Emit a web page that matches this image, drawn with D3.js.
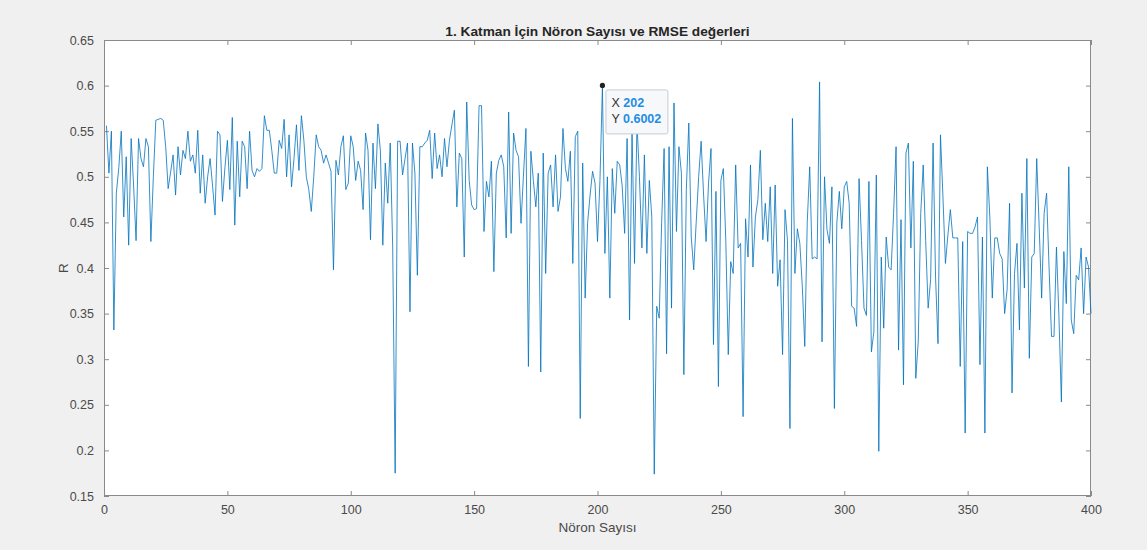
<!DOCTYPE html>
<html><head><meta charset="utf-8">
<script src="https://cdn.jsdelivr.net/npm/d3@7"></script>
<style>
html,body{margin:0;padding:0;background:#f0f0f0;}
svg{display:block;font-family:"Liberation Sans",Arial,Helvetica,sans-serif;}
</style></head>
<body>
<script>
const titleText = "1. Katman İçin Nöron Sayısı ve RMSE değerleri";
const xLabel = "Nöron Sayısı";
const yLabel = "R";
const xTicks = [0,50,100,150,200,250,300,350,400];
const yTicks = [0.15,0.2,0.25,0.3,0.35,0.4,0.45,0.5,0.55,0.6,0.65];
const tipX = 202, tipY = 0.6002;

const r1_100 = [0.556,0.504,0.55,0.332,0.482,0.51,0.55,0.456,0.522,0.425,0.542,0.49,0.43,0.542,0.52,0.511,0.542,0.533,0.429,0.5,
0.562,0.563,0.564,0.562,0.533,0.487,0.505,0.524,0.48,0.533,0.502,0.529,0.52,0.55,0.517,0.524,0.504,0.551,0.482,0.524,
0.471,0.50,0.52,0.49,0.458,0.55,0.546,0.473,0.51,0.54,0.486,0.565,0.447,0.539,0.478,0.539,0.533,0.487,0.55,0.507,
0.5,0.509,0.506,0.509,0.567,0.551,0.551,0.529,0.504,0.504,0.54,0.531,0.563,0.5,0.546,0.489,0.52,0.557,0.507,0.567,
0.54,0.5,0.486,0.462,0.5,0.546,0.533,0.529,0.515,0.524,0.515,0.506,0.398,0.518,0.502,0.533,0.545,0.486,0.493,0.545];
const r101_200 = [0.533,0.496,0.517,0.507,0.464,0.548,0.529,0.431,0.537,0.487,0.558,0.529,0.425,0.515,0.471,0.537,0.423,0.175,0.539,0.539,
0.502,0.52,0.537,0.352,0.537,0.504,0.392,0.533,0.533,0.537,0.54,0.551,0.498,0.548,0.509,0.524,0.5,0.542,0.511,0.54,
0.557,0.573,0.467,0.526,0.52,0.412,0.582,0.496,0.469,0.464,0.465,0.578,0.578,0.44,0.495,0.478,0.517,0.396,0.504,0.518,
0.524,0.511,0.433,0.571,0.438,0.548,0.529,0.522,0.449,0.502,0.553,0.292,0.528,0.496,0.467,0.504,0.286,0.526,0.394,0.504,
0.513,0.467,0.524,0.462,0.478,0.553,0.509,0.495,0.528,0.405,0.544,0.55,0.235,0.515,0.367,0.45,0.48,0.506,0.493,0.429];
const r201_300 = [0.496,0.6002,0.416,0.5,0.367,0.509,0.46,0.517,0.513,0.49,0.438,0.542,0.343,0.551,0.405,0.559,0.5,0.422,0.524,0.416,
0.496,0.456,0.174,0.358,0.345,0.45,0.531,0.306,0.533,0.356,0.581,0.44,0.533,0.504,0.283,0.486,0.559,0.434,0.398,0.45,
0.5,0.539,0.48,0.429,0.493,0.531,0.316,0.484,0.27,0.496,0.509,0.43,0.305,0.407,0.394,0.513,0.422,0.427,0.237,0.454,
0.412,0.513,0.401,0.456,0.475,0.529,0.431,0.471,0.429,0.489,0.394,0.491,0.38,0.409,0.305,0.464,0.43,0.224,0.564,0.394,
0.443,0.427,0.38,0.314,0.45,0.511,0.41,0.412,0.41,0.604,0.319,0.5,0.442,0.427,0.489,0.246,0.45,0.484,0.443,0.489];
const r301_400 = [0.495,0.471,0.358,0.356,0.336,0.498,0.43,0.356,0.348,0.495,0.308,0.33,0.502,0.199,0.412,0.334,0.434,0.401,0.398,0.46,
0.533,0.31,0.453,0.272,0.526,0.537,0.422,0.517,0.279,0.32,0.46,0.513,0.43,0.356,0.387,0.537,0.39,0.317,0.546,0.478,
0.405,0.436,0.464,0.433,0.433,0.433,0.292,0.429,0.219,0.44,0.438,0.438,0.445,0.456,0.294,0.434,0.219,0.511,0.456,0.367,
0.433,0.433,0.416,0.41,0.35,0.376,0.471,0.263,0.394,0.427,0.332,0.482,0.378,0.52,0.301,0.412,0.416,0.52,0.445,0.367,
0.46,0.482,0.401,0.325,0.325,0.423,0.347,0.253,0.418,0.361,0.511,0.343,0.328,0.392,0.387,0.422,0.35,0.412,0.401,0.35];

const values = [].concat(r1_100, r101_200, r201_300, r301_400);
const neurons = d3.range(1, values.length + 1);
const data = neurons.map((n,i)=>({x:n, y:values[i]}));

const W = 1147, H = 550;
const m = {left:104, right:1091, top:40, bottom:496};
const svg = d3.select("body").append("svg").attr("width",W).attr("height",H);
svg.append("rect").attr("width",W).attr("height",H).attr("fill","#f0f0f0");

const x = d3.scaleLinear().domain([0,400]).range([m.left,m.right]);
const y = d3.scaleLinear().domain([0.15,0.65]).range([m.bottom,m.top]);

svg.append("rect").attr("x",m.left).attr("y",m.top).attr("width",m.right-m.left).attr("height",m.bottom-m.top).attr("fill","#ffffff");

const axisCol = "#8a8a8a", txtCol = "#4a4a4a";
const fmtYs = d => String(+d.toFixed(2));

function styleAxis(g){
  g.select(".domain").remove();
  g.selectAll("line").attr("stroke",axisCol);
  g.selectAll("text").attr("fill",txtCol).style("font-size","12.5px").style("font-family",'"Liberation Sans",Arial,sans-serif');
}
svg.append("g").attr("transform",`translate(0,${m.bottom})`)
  .call(d3.axisBottom(x).tickValues(xTicks).tickSize(-5).tickPadding(9).tickFormat(d3.format("d"))).call(styleAxis);
svg.append("g").attr("transform",`translate(0,${m.top})`)
  .call(d3.axisTop(x).tickValues(xTicks).tickSize(-5).tickFormat("")).call(styleAxis);
svg.append("g").attr("transform",`translate(${m.left},0)`)
  .call(d3.axisLeft(y).tickValues(yTicks).tickSize(-5).tickPadding(10).tickFormat(fmtYs)).call(styleAxis);
svg.append("g").attr("transform",`translate(${m.right},0)`)
  .call(d3.axisRight(y).tickValues(yTicks).tickSize(-5).tickFormat("")).call(styleAxis);

svg.append("rect").attr("x",m.left+0.5).attr("y",m.top+0.5).attr("width",m.right-m.left-1).attr("height",m.bottom-m.top-1)
  .attr("fill","none").attr("stroke",axisCol).attr("stroke-width",1);

svg.append("path").datum(data)
  .attr("d", d3.line().x(d=>x(d.x)).y(d=>y(d.y)))
  .attr("fill","none").attr("stroke","#0072BD").attr("stroke-width",0.8).attr("stroke-linejoin","round");

svg.append("text").attr("x",(m.left+m.right)/2).attr("y",36).attr("text-anchor","middle")
  .attr("fill","#262626").style("font-size","13.7px").style("font-weight","bold").text(titleText);
svg.append("text").attr("x",(m.left+m.right)/2).attr("y",532).attr("text-anchor","middle")
  .attr("fill",txtCol).style("font-size","13.5px").text(xLabel);
svg.append("text").attr("transform",`translate(68,${(m.top+m.bottom)/2}) rotate(-90)`).attr("text-anchor","middle")
  .attr("fill",txtCol).style("font-size","13.5px").text(yLabel);

const tx = x(tipX), ty = y(tipY);
const tip = svg.append("g");
tip.append("rect").attr("x",tx+3.5).attr("y",ty+4.5).attr("width",62).attr("height",44).attr("rx",2)
  .attr("fill","#f7f8fa").attr("stroke","#c8ccd2").attr("stroke-width",1);
const t1 = tip.append("text").attr("x",tx+9).attr("y",ty+22).style("font-size","12.5px");
t1.append("tspan").attr("fill","#333").text("X ");
t1.append("tspan").attr("fill","#1e8de6").style("font-weight","bold").text(String(tipX));
const t2 = tip.append("text").attr("x",tx+9).attr("y",ty+38).style("font-size","12.5px");
t2.append("tspan").attr("fill","#333").text("Y ");
t2.append("tspan").attr("fill","#1e8de6").style("font-weight","bold").text(String(tipY));
tip.append("circle").attr("cx",tx).attr("cy",ty).attr("r",2.6).attr("fill","#222");
</script>
</body></html>
